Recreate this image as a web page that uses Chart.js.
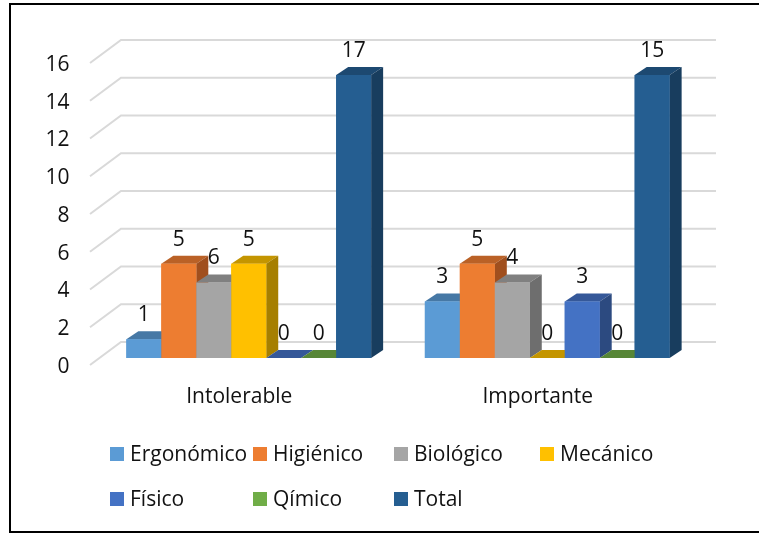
<!DOCTYPE html>
<html>
<head>
<meta charset="utf-8">
<style>
html, body { margin: 0; padding: 0; background: #fff; }
canvas { display: block; }
</style>
<script src="https://cdn.jsdelivr.net/npm/chart.js@4"></script>
</head>
<body>
<canvas id="riesgos" width="759" height="533"></canvas>
<script>
const categories = ['Intolerable', 'Importante'];
const seriesNames = ['Ergonómico', 'Higiénico', 'Biológico', 'Mecánico', 'Físico', 'Qímico', 'Total'];

// bar heights as drawn
const ergonomico = [1, 3];
const higienico = [5, 5];
const biologico = [4, 4];
const mecanico = [5, 0];
const fisico = [0, 3];
const quimico = [0, 0];
const total = [15, 15];

// the printed labels do not always agree with the bar heights in the original
const ergonomicoLabels = ['1', '3'];
const higienicoLabels = ['5', '5'];
const biologicoLabels = ['6', '4'];
const mecanicoLabels = ['5', '0'];
const fisicoLabels = ['0', '3'];
const quimicoLabels = ['0', '0'];
const totalLabels = ['17', '15'];

const frontColors = ['#5B9BD5', '#ED7D31', '#A5A5A5', '#FFC000', '#4472C4', '#70AD47', '#255E91'];
const topColors = ['#4678A5', '#BA6126', '#808080', '#C49500', '#355899', '#578637', '#1D4971'];
const sideColors = ['#3D6A93', '#A04F1E', '#6E6E6E', '#A67F00', '#2C4A80', '#4A7230', '#183D5E'];

const seriesValues = [ergonomico, higienico, biologico, mecanico, fisico, quimico, total];
const seriesLabels = [ergonomicoLabels, higienicoLabels, biologicoLabels, mecanicoLabels, fisicoLabels, quimicoLabels, totalLabels];

const FONT = '"Open Sans", sans-serif';
const FONT_SIZE = 21;
const TEXT = '#111';

// 3D look: every bar gets a top and a side face
const BAR_DX = 12, BAR_DY = -8;

const frame3d = {
    id: 'frame3d',
    beforeDraw(chart) {
        const c = chart.ctx;
        c.save();
        c.fillStyle = '#fff';
        c.fillRect(0, 0, 759, 533);
        c.strokeStyle = '#000';
        c.lineWidth = 2;
        c.strokeRect(10, 4, 760, 528);
        c.restore();
    },
    beforeDatasetsDraw(chart) {
        // gridlines: slanted piece on the side wall, then along the back wall
        const c = chart.ctx, y = chart.scales.y;
        c.save();
        c.strokeStyle = '#D9D9D9';
        c.lineWidth = 2;
        y.ticks.forEach(function(t) {
            const py = y.getPixelForValue(t.value);
            c.beginPath();
            c.moveTo(90, py + 7);
            c.lineTo(121, py - 16);
            c.lineTo(716, py - 16);
            c.stroke();
        });
        c.restore();
    },
    afterDatasetsDraw(chart) {
        const c = chart.ctx;
        // left to right so later bars cover the sides of earlier ones
        chart.data.datasets.forEach(function(ds, i) {
            chart.getDatasetMeta(i).data.forEach(function(bar) {
                const l = bar.x - bar.width / 2, r = bar.x + bar.width / 2;
                c.fillStyle = topColors[i];
                c.beginPath();
                c.moveTo(l, bar.y);
                c.lineTo(l + BAR_DX, bar.y + BAR_DY);
                c.lineTo(r + BAR_DX, bar.y + BAR_DY);
                c.lineTo(r, bar.y);
                c.fill();
                c.fillStyle = sideColors[i];
                c.beginPath();
                c.moveTo(r, bar.y);
                c.lineTo(r + BAR_DX, bar.y + BAR_DY);
                c.lineTo(r + BAR_DX, bar.base + BAR_DY);
                c.lineTo(r, bar.base);
                c.fill();
                bar.draw(c);
            });
        });
        // value labels
        c.save();
        c.fillStyle = TEXT;
        c.font = FONT_SIZE + 'px ' + FONT;
        c.textAlign = 'center';
        c.textBaseline = 'middle';
        chart.data.datasets.forEach(function(ds, i) {
            chart.getDatasetMeta(i).data.forEach(function(bar, j) {
                c.fillText(seriesLabels[i][j], bar.x, bar.y - 24);
            });
        });
        c.restore();
    },
    afterDraw(chart) {
        // legend sits in fixed columns like the original
        const c = chart.ctx;
        const columns = [110, 253, 394, 540];
        const rows = [455, 500];
        c.save();
        c.font = FONT_SIZE + 'px ' + FONT;
        c.textAlign = 'left';
        c.textBaseline = 'middle';
        seriesNames.forEach(function(name, i) {
            const x = columns[i % 4], y = rows[Math.floor(i / 4)];
            c.fillStyle = frontColors[i];
            c.fillRect(x, y - 8, 14, 14);
            c.fillStyle = TEXT;
            c.fillText(name, x + 20, y);
        });
        c.restore();
    }
};

const ctx = document.getElementById('riesgos').getContext('2d');
const riskChart = new Chart(ctx, {
    type: 'bar',
    data: {
        labels: categories,
        datasets: seriesNames.map(function(name, i) {
            return {
                label: name,
                data: seriesValues[i],
                backgroundColor: frontColors[i],
                borderWidth: 0,
                barPercentage: 1,
                categoryPercentage: 0.82
            };
        })
    },
    options: {
        responsive: false,
        animation: false,
        layout: { padding: { top: 56, right: 62.5, left: 0, bottom: 0 } },
        plugins: { legend: { display: false }, tooltip: { enabled: false }, title: { display: false } },
        scales: {
            x: {
                grid: { display: false },
                border: { display: false },
                ticks: { color: TEXT, font: { family: FONT, size: FONT_SIZE }, labelOffset: -9.5, padding: 18, maxRotation: 0 },
                afterFit: function(scale) { scale.height = 175; }
            },
            y: {
                min: 0,
                max: 16,
                grid: { display: false, drawTicks: false },
                border: { display: false },
                ticks: { stepSize: 2, color: TEXT, font: { family: FONT, size: FONT_SIZE }, labelOffset: 9, padding: 30 },
                afterFit: function(scale) { scale.width = 99.5; }
            }
        }
    },
    plugins: [frame3d]
});
</script>
</body>
</html>
